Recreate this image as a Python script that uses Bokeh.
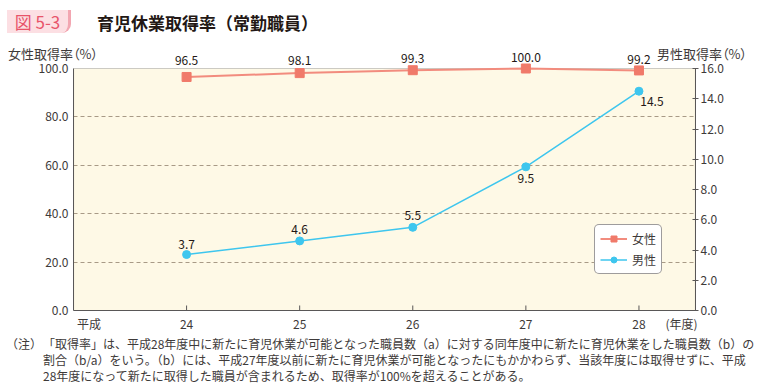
import math
from bokeh.plotting import figure
from bokeh.layouts import column
from bokeh.models import (ColumnDataSource, Range1d, LinearAxis, FixedTicker, Div, BoxAnnotation,
                          NumeralTickFormatter, LabelSet, Legend, LegendItem)
from bokeh.core.properties import value
from bokeh.embed import file_html
from bokeh.resources import INLINE

# ---- data ----
years = [24, 25, 26, 27, 28]
year_labels = ["24", "25", "26", "27", "28"]
female = [96.5, 98.1, 99.3, 100.0, 99.2]
male = [3.7, 4.6, 5.5, 9.5, 14.5]
left_ticks = [0, 20, 40, 60, 80, 100]
right_ticks = [0, 2, 4, 6, 8, 10, 12, 14, 16]
grid_ticks = [20, 40, 60, 80]
title_tag = "図 5-3"
title_text = "育児休業取得率（常勤職員）"
left_unit = "女性取得率（%）"
right_unit = "男性取得率（%）"
era_label = "平成"
year_unit = "(年度)"
notes = [
    "「取得率」は、平成28年度中に新たに育児休業が可能となった職員数（a）に対する同年度中に新たに育児休業をした職員数（b）の",
    "割合（b/a）をいう。（b）には、平成27年度以前に新たに育児休業が可能となったにもかかわらず、当該年度には取得せずに、平成",
    "28年度になって新たに取得した職員が含まれるため、取得率が100%を超えることがある。",
]
note_head = "（注）"

# ---- style / layout constants ----
female_dy = [16, 13, 12, 11, 11]
male_dx = [0, 0, 0, 0, 13]
male_dy = [10, 11, 12, -12, -10]
era_pos = 23.137
unit_pos = 28.376

JP = "Noto Sans CJK JP"
FEMALE_C = "#F07A6A"
MALE_C = "#3EC6EE"
TXT = "#3E3A39"
X0, X1 = 23.0, 28.5
PLOT_H = 242          # pixel height of the 0..100 area
FRAME_H = 262         # frame height (extra room above for value labels)
FRAME_W = 622

W = 760
p = figure(frame_width=FRAME_W, frame_height=FRAME_H, output_backend="svg", toolbar_location=None,
           x_range=Range1d(X0, X1), y_range=Range1d(0, 100 * FRAME_H / PLOT_H),
           min_border_left=73, min_border_right=65, min_border_top=0,
           min_border_bottom=20, margin=(-12, 0, 0, 0))
p.extra_y_ranges = {"male": Range1d(0, 16 * FRAME_H / PLOT_H)}
p.background_fill_alpha = 0
p.border_fill_alpha = 0
p.outline_line_color = None

# plot area (cream) with frame
p.add_layout(BoxAnnotation(left=X0, right=X1, bottom=0, top=100, fill_color="#FEF9E6", fill_alpha=1,
                           line_color="#595757", line_width=1.2, level="image"))

# axes
p.xaxis.ticker = FixedTicker(ticks=[era_pos] + years + [unit_pos])
ov = {y: l for y, l in zip(years, year_labels)}
ov[era_pos] = era_label
ov[unit_pos] = year_unit
p.xaxis.major_label_overrides = ov
p.xaxis.major_tick_line_color = None
p.xaxis.major_tick_in = 0
p.xaxis.major_tick_out = 0
p.xaxis.minor_tick_line_color = None
p.xaxis.minor_tick_in = 0
p.xaxis.minor_tick_out = 0
p.xaxis.axis_line_color = "#595757"
p.xaxis.major_label_standoff = 4
p.xaxis.major_label_text_font = JP
p.xaxis.major_label_text_font_size = "12px"
p.xaxis.major_label_text_color = TXT

p.yaxis.ticker = FixedTicker(ticks=left_ticks)
p.yaxis.formatter = NumeralTickFormatter(format="0.0")
p.yaxis.bounds = (0, 100)
p.yaxis.major_tick_in = 0
p.yaxis.major_tick_out = 0
p.yaxis.minor_tick_line_color = None
p.yaxis.axis_line_color = "#595757"
p.yaxis.major_label_standoff = 5
p.yaxis.major_label_text_font = JP
p.yaxis.major_label_text_font_size = "12px"
p.yaxis.major_label_text_color = TXT

ra = LinearAxis(y_range_name="male", ticker=FixedTicker(ticks=right_ticks),
                formatter=NumeralTickFormatter(format="0.0"), bounds=(0, 16))
ra.major_tick_in = 3
ra.major_tick_out = 3
ra.minor_tick_line_color = None
ra.axis_line_color = "#595757"
ra.major_tick_line_color = "#595757"
ra.major_label_standoff = 2
ra.major_label_text_font = JP
ra.major_label_text_font_size = "12px"
ra.major_label_text_color = TXT
p.add_layout(ra, "right")

p.xgrid.grid_line_color = None
p.ygrid.ticker = FixedTicker(ticks=grid_ticks)
p.ygrid.grid_line_color = "#A89A86"
p.ygrid.grid_line_dash = "4 3"
p.ygrid.grid_line_width = 1

# x tick marks (inside, pointing up) at the year positions
p.scatter(x=years, y=[0] * len(years), marker="dash", angle=math.pi / 2, size=10,
          line_color="#595757", line_width=1)

# data
fsrc = ColumnDataSource(dict(x=years, y=female, lab=[f"{v:.1f}" for v in female], dy=female_dy))
msrc = ColumnDataSource(dict(x=years, y=male, lab=[f"{v:.1f}" for v in male], dx=male_dx, dy=male_dy))

fl = p.line("x", "y", source=fsrc, line_color="#F28C7E", line_width=2)
fm = p.scatter("x", "y", source=fsrc, marker="square", size=9, fill_color=FEMALE_C, line_color=FEMALE_C)
ml = p.line("x", "y", source=msrc, y_range_name="male", line_color=MALE_C, line_width=1.5)
mm = p.scatter("x", "y", source=msrc, y_range_name="male", marker="circle", size=8,
               fill_color=MALE_C, line_color=MALE_C)

p.add_layout(LabelSet(x="x", y="y", text="lab", source=fsrc, y_offset="dy",
                      text_align="center", text_baseline="middle", text_font=value(JP),
                      text_font_size="12px", text_color="#231815"))
p.add_layout(LabelSet(x="x", y="y", text="lab", source=msrc, y_range_name="male",
                      x_offset="dx", y_offset="dy",
                      text_align="center", text_baseline="middle", text_font=value(JP),
                      text_font_size="12px", text_color="#231815"))

legend = Legend(items=[LegendItem(label="女性", renderers=[fl, fm]),
                       LegendItem(label="男性", renderers=[ml, mm])],
                location=(521, 36))
legend.background_fill_color = "white"
legend.background_fill_alpha = 1
legend.border_line_color = "#3E3A39"
legend.border_line_width = 1
if "border_radius" in Legend.properties():
    legend.border_radius = 5
legend.label_text_font = JP
legend.label_text_font_size = "12px"
legend.label_text_color = TXT
legend.glyph_width = 27
legend.glyph_height = 15
legend.label_height = 15
legend.label_standoff = 5
legend.spacing = 4
legend.padding = 5
legend.margin = 0
p.add_layout(legend)

# ---- header (title + axis units) ----
head_html = f"""
<div style="position:relative;width:{W}px;height:60px;font-family:'{JP}';color:{TXT};">
  <div style="position:absolute;left:7px;top:10px;width:64px;height:23px;background:#FCDFE3;
       border-right:3px solid #F2A6B1;border-bottom-right-radius:9px;
       color:#E8546A;font-size:17px;line-height:23px;text-align:center;white-space:nowrap;">{title_tag}</div>
  <div style="position:absolute;left:97px;top:12px;font-size:17px;line-height:22px;font-weight:bold;
       color:#231815;white-space:nowrap;">{title_text}</div>
  <div style="position:absolute;left:8px;top:46px;font-size:13px;line-height:16px;white-space:nowrap;
       font-feature-settings:'palt';">{left_unit}</div>
  <div style="position:absolute;right:13px;top:46px;font-size:13px;line-height:16px;white-space:nowrap;
       font-feature-settings:'palt';">{right_unit}</div>
</div>"""
head = Div(text=head_html, width=W, height=60, margin=0)

# ---- notes ----
notes_html = f"""
<div style="position:relative;width:{W}px;height:56px;font-family:'{JP}';color:{TXT};
     font-size:12px;line-height:16px;white-space:nowrap;">
  <div style="position:absolute;left:6px;top:2px;">{note_head}</div>
  <div style="position:absolute;left:43px;top:2px;">{notes[0]}<br>{notes[1]}<br>{notes[2]}</div>
</div>"""
foot = Div(text=notes_html, width=W, height=56, margin=0)

layout = column(head, p, foot, margin=0, spacing=0)
open("out.html", "w").write(file_html(layout, INLINE))
